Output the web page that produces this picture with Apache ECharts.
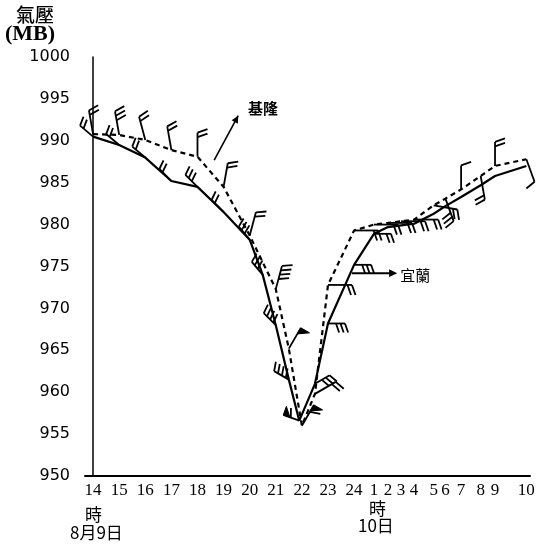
<!DOCTYPE html>
<html><head><meta charset="utf-8">
<script src="https://cdn.jsdelivr.net/npm/echarts@6/dist/echarts.min.js"></script>
<style>html,body{margin:0;padding:0;background:#fff}#c{width:542px;height:547px}</style>
</head><body><div id="c"></div>
<script>
// hour tick labels (14h on Aug 9 .. 10h on Aug 10)
const hourLabels = ['14','15','16','17','18','19','20','21','22','23','24','1','2','3','4','5','6','7','8','9','10'];
// printed place of each hour mark along the time axis (one first-day hour = 1 unit)
const hourMarks = [0,1,2,3,4,5,6,7,8,9,10,10.76,11.3,11.8,12.3,13.05,13.5,14.1,14.85,15.4,16.6];

// 基隆 (dashed): hours after 14h Aug 9, pressure (mb), wind from (deg), wind (kt)
const keelungHours    = [0,1,2,3,4,5,6,7,7.5,8,8.5,9,10,11,12,13,14,15,16,17,18,19,20];
const keelungPressure = [990.8,990.7,990.1,988.9,988.1,984.5,978.7,972.3,965.2,956.0,959.8,972.8,979.3,980.0,980.2,980.4,980.6,982.3,983.1,984.2,985.8,987.0,987.8];
const keelungWindDir  = [350,350,345,350,0,10,15,15,30,30,60,90,90,90,90,90,90,100,160,0,170,0,160];
const keelungWindKt   = [20,30,20,20,20,20,20,40,50,60,20,20,20,20,20,20,20,20,30,10,20,20,10];

// 宜蘭 (solid)
const yilanHours    = [0,1,2,3,4,5,6,6.5,7,7.5,7.9,8.5,9,10,11,12,13,14,15,16,17,18,19,20];
const yilanPressure = [990.5,989.5,988.0,985.2,984.5,981.5,978.2,974.0,968.0,961.5,956.6,961.0,968.2,975.2,978.9,979.7,979.9,980.1,981.3,982.2,983.3,984.7,985.8,987.0];
const yilanWindDir  = [310,310,310,315,315,315,320,320,315,300,290,60,90,90,90,0,0,0,0,0,0,0,0,0];
const yilanWindKt   = [20,20,20,20,30,20,30,30,40,40,60,30,30,30,20,0,0,0,0,0,0,0,0,0];

const pressureTicks = [950,955,960,965,970,975,980,985,990,995,1000];

function unitOf(t){
  const i = Math.floor(t);
  if (i >= hourMarks.length - 1) return hourMarks[hourMarks.length - 1];
  return hourMarks[i] + (t - i) * (hourMarks[i + 1] - hourMarks[i]);
}
function lineData(hours, pres){ return hours.map((t,i)=>[unitOf(t), pres[i]]); }
function barbData(hours, pres, dir, kt){ return hours.map((t,i)=>[unitOf(t), pres[i], dir[i], kt[i]]); }

function barbRenderer(staffLen, F){
  return function(params, api){
    const kt = api.value(3);
    if (!kt) return null;
    const p = api.coord([api.value(0), api.value(1)]);
    const r = api.value(2) * Math.PI / 180;
    const s = [Math.sin(r), -Math.cos(r)];
    const c = [-s[1], s[0]];
    const tip = [p[0] + s[0]*staffLen, p[1] + s[1]*staffLen];
    const st = {stroke:'#000', lineWidth:1.8, fill:null};
    const ch = [{type:'line', shape:{x1:p[0], y1:p[1], x2:tip[0], y2:tip[1]}, style:st}];
    let rest = kt, pos = 0;
    while (rest >= 50){
      const a = [tip[0]-s[0]*pos, tip[1]-s[1]*pos];
      const b = [tip[0]-s[0]*(pos+7), tip[1]-s[1]*(pos+7)];
      const ap = [a[0]+c[0]*F, a[1]+c[1]*F];
      ch.push({type:'polygon', shape:{points:[a,ap,b]}, style:{fill:'#000', stroke:'#000', lineWidth:1}});
      pos += 8; rest -= 50;
    }
    while (rest >= 10){
      const a = [tip[0]-s[0]*pos, tip[1]-s[1]*pos];
      ch.push({type:'line', shape:{x1:a[0], y1:a[1], x2:a[0]+c[0]*F+s[0]*F*0.35, y2:a[1]+c[1]*F+s[1]*F*0.35}, style:st});
      pos += 4.5; rest -= 10;
    }
    if (rest >= 5){
      const a = [tip[0]-s[0]*pos, tip[1]-s[1]*pos];
      ch.push({type:'line', shape:{x1:a[0], y1:a[1], x2:a[0]+c[0]*F*0.5+s[0]*F*0.18, y2:a[1]+c[1]*F*0.5+s[1]*F*0.18}, style:st});
    }
    return {type:'group', children:ch};
  };
}

const chart = echarts.init(document.getElementById('c'), null, {renderer:'canvas'});
chart.setOption({
  backgroundColor:'#fff',
  animation:false,
  grid:{left:85, right:12, top:57, bottom:71, outerBoundsMode:'none'},
  xAxis:{
    type:'value', min:-0.31, max:16.74,
    axisLine:{show:true, lineStyle:{color:'#000', width:2}},
    axisTick:{show:false}, splitLine:{show:false},
    axisLabel:{
      customValues: hourMarks,
      color:'#000', fontFamily:'Liberation Serif', fontSize:17, margin:6,
      formatter:(v)=>{ const i = hourMarks.findIndex(m=>Math.abs(m-v)<1e-6); return i>=0 ? hourLabels[i] : ''; }
    }
  },
  yAxis:{
    type:'value', min:950, max:1000, interval:5,
    axisLine:{show:true, lineStyle:{color:'#000', width:1.5}},
    axisTick:{show:false}, splitLine:{show:false},
    axisLabel:{customValues: pressureTicks, color:'#000', fontFamily:'DejaVu Sans', fontSize:16, margin:15,
      formatter:(v)=>String(v)}
  },
  series:[
    {name:'基隆', type:'line', data:lineData(keelungHours, keelungPressure), symbol:'none', smooth:false,
     lineStyle:{color:'#000', width:2.2, type:[5,4]}, z:3},
    {name:'宜蘭', type:'line', data:lineData(yilanHours, yilanPressure), symbol:'none', smooth:false,
     lineStyle:{color:'#000', width:2.2}, z:3},
    {type:'custom', data:barbData(keelungHours, keelungPressure, keelungWindDir, keelungWindKt),
     renderItem:barbRenderer(24, 10), z:4, silent:true},
    {type:'custom', data:barbData(yilanHours, yilanPressure, yilanWindDir, yilanWindKt),
     renderItem:barbRenderer(17, 9), z:4, silent:true}
  ]
});

function px(u, p){ return chart.convertToPixel({gridIndex:0}, [u, p]); }
const kA = px(4.64, 987.7), kB = px(5.56, 993.0), kT = px(6.51, 993.9);
const yA = px(9.92, 974.2), yB = px(11.5, 974.2), yT = px(12.34, 974.0);
const ang = Math.atan2(kB[1]-kA[1], kB[0]-kA[0]);
function head(tip, a, size){
  return [tip, [tip[0]-size*Math.cos(a-0.45), tip[1]-size*Math.sin(a-0.45)], [tip[0]-size*Math.cos(a+0.45), tip[1]-size*Math.sin(a+0.45)]];
}
chart.setOption({graphic:[
  {type:'text', left:16, top:5, style:{text:'氣壓', font:'500 19px "Noto Sans CJK TC"', fill:'#000'}},
  {type:'text', left:5, top:23, style:{text:'(MB)', font:'bold 22px "Liberation Serif"', fill:'#000'}},
  {type:'text', left:85, top:506, style:{text:'時', font:'17px "Noto Sans CJK TC"', fill:'#000'}},
  {type:'text', left:70, top:524, style:{text:'8月9日', font:'17px "Noto Sans CJK TC"', fill:'#000'}},
  {type:'text', left:369, top:500, style:{text:'時', font:'17px "Noto Sans CJK TC"', fill:'#000'}},
  {type:'text', left:358, top:517, style:{text:'10日', font:'17px "Noto Sans CJK TC"', fill:'#000'}},
  {type:'line', shape:{x1:kA[0], y1:kA[1], x2:kB[0], y2:kB[1]}, style:{stroke:'#000', lineWidth:1.6}},
  {type:'polygon', shape:{points:head(kB, ang, 8)}, style:{fill:'#000'}},
  {type:'text', x:kT[0], y:kT[1], style:{text:'基隆', font:'bold 15px "Noto Sans CJK TC"', fill:'#000', align:'center', verticalAlign:'middle'}},
  {type:'line', shape:{x1:yA[0], y1:yA[1], x2:yB[0], y2:yB[1]}, style:{stroke:'#000', lineWidth:2}},
  {type:'polygon', shape:{points:head([yB[0]+4, yB[1]], 0, 9)}, style:{fill:'#000'}},
  {type:'text', x:yT[0], y:yT[1], style:{text:'宜蘭', font:'15px "Noto Sans CJK TC"', fill:'#000', align:'center', verticalAlign:'middle'}}
]});
</script></body></html>
